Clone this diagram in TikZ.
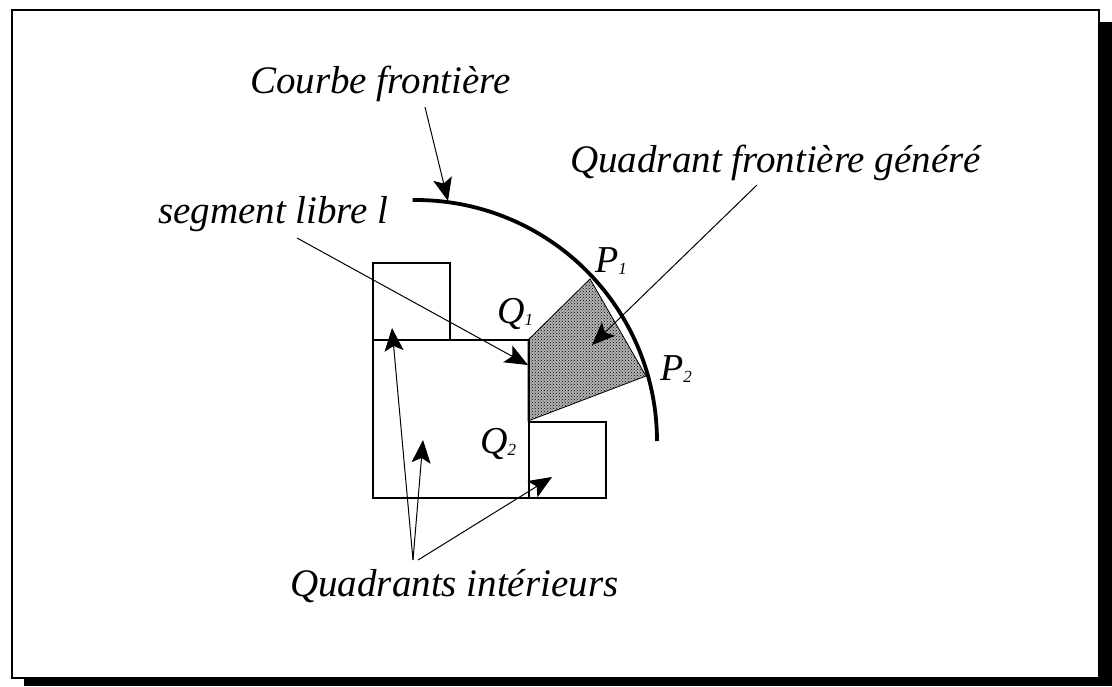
\documentclass[tikz,border=0pt]{standalone}
\usepackage{fontspec}
\setmainfont{Liberation Serif}
\usetikzlibrary{arrows.meta,patterns}
\newcommand\lowsub[1]{\raisebox{-2pt}{\fontsize{17}{17}\selectfont #1}}
\begin{document}
\begin{tikzpicture}[x=1pt,y=-1pt,
  lbl/.style={inner sep=0pt, anchor=base west, font=\fontsize{39}{44}\selectfont\itshape},
  ptlbl/.style={inner sep=0pt, anchor=base west, font=\fontsize{38}{42}\selectfont\itshape},
  quad/.style={draw, line width=1.2pt},
  ptr/.style={line width=1pt, -{Stealth[length=23pt,width=19pt,inset=5pt]}},
  curve/.style={line width=3.8pt},
]
\useasboundingbox (0,0) rectangle (1112,686);
% frame with shadow
\fill[black] (24,22) rectangle (1112,686);
\draw[fill=white, line width=2pt] (12,10) rectangle (1099,678);

% generated boundary quadrant
\coordinate (Q1) at (528,340);
\coordinate (P1) at (590,279);
\coordinate (P2) at (646,376);
\coordinate (Q2) at (528,421);
\fill[black!30] (Q1) -- (P1) -- (P2) -- (Q2) -- cycle;
\draw[line width=0.8pt, pattern=crosshatch dots] (Q1) -- (P1) -- (P2) -- (Q2) -- cycle;

% interior quadrants
\draw[quad] (373,263) rectangle (450,340);
\draw[quad] (373,340) rectangle (529,498);
\draw[quad] (529,422) rectangle (606,498);

% boundary curve
\draw[curve] plot[domain=0:90.8, samples=80] ({416+241*cos(\x)},{441-241*sin(\x)});

% labels
\node[lbl] (lcourbe) at (250,93) {Courbe frontière};
\node[lbl] (lquad) at (570,172) {Quadrant frontière généré};
\node[lbl] (lseg) at (158,223) {segment libre l};
\node[lbl] (lint) at (290,596) {Quadrants intérieurs};
\node[ptlbl] (lP1) at (595,272) {P\lowsub{1}};
\node[ptlbl] (lQ1) at (497,323) {Q\lowsub{1}};
\node[ptlbl] (lP2) at (660,380) {P\lowsub{2}};
\node[ptlbl] (lQ2) at (480,453) {Q\lowsub{2}};

% arrows
\coordinate (c1s) at (425,107);  \coordinate (c1t) at (448,201);
\coordinate (sgs) at (297,238);  \coordinate (sgt) at (528,365);
\coordinate (qgs) at (757,185);  \coordinate (qgt) at (592,345);
\coordinate (qia) at (413,560);  \coordinate (qib) at (418,560);
\coordinate (qit1) at (392,328); \coordinate (qit2) at (423,440); \coordinate (qit3) at (552,477);
\draw[ptr] (c1s) -- (c1t);
\draw[ptr] (sgs) -- (sgt);
\draw[ptr] (qgs) -- (qgt);
\draw[ptr] (qia) -- (qit1);
\draw[ptr] (qia) -- (qit2);
\draw[ptr] (qib) -- (qit3);
\end{tikzpicture}
\end{document}
